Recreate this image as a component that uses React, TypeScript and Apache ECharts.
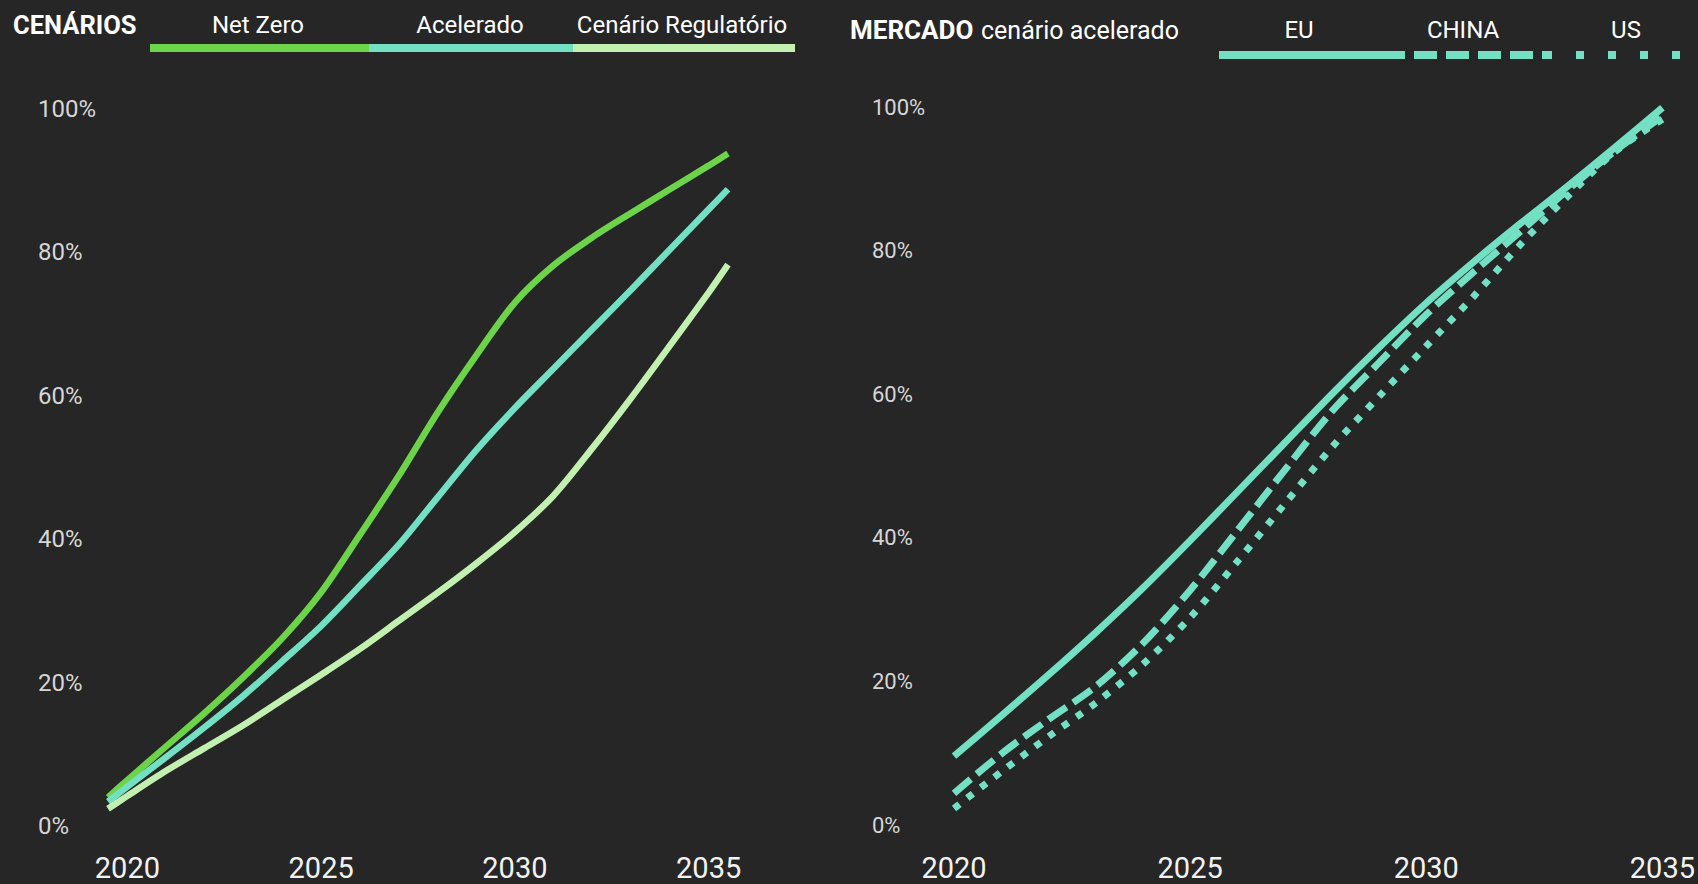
import React, { useEffect, useRef } from "react";
import * as echarts from "echarts";

// ---- Left chart: CENÁRIOS ----
const scenarioYears = [2019.5, 2020, 2021, 2022, 2023, 2024, 2025, 2026, 2027, 2028, 2029, 2030, 2031, 2032, 2033, 2034, 2035, 2035.5];
const netZero = [4.0, 6.4, 11.1, 15.8, 20.8, 26.2, 32.6, 40.6, 48.8, 57.6, 65.6, 73.0, 78.2, 82.1, 85.5, 88.8, 92.1, 93.8];
const acelerado = [3.4, 5.5, 9.6, 13.8, 18.2, 23.0, 27.9, 33.5, 39.2, 45.8, 52.4, 58.3, 63.8, 69.3, 74.8, 80.4, 86.0, 88.8];
const regulatorio = [2.4, 4.2, 7.7, 10.9, 14.1, 17.6, 21.1, 24.7, 28.6, 32.5, 36.6, 41.0, 46.1, 52.7, 59.7, 67.0, 74.4, 78.3];

// ---- Right chart: MERCADO cenário acelerado ----
const marketYears = [2020, 2021, 2022, 2023, 2024, 2025, 2026, 2027, 2028, 2029, 2030, 2031, 2032, 2033, 2034, 2035];
const eu = [9.6, 15.2, 20.9, 26.8, 33.0, 39.6, 46.4, 53.2, 60.0, 66.5, 72.7, 78.4, 83.8, 89.0, 94.4, 99.9];
const china = [4.4, 9.9, 14.7, 19.3, 25.3, 32.7, 41.0, 49.4, 57.6, 64.4, 71.1, 77.0, 82.7, 88.5, 93.9, 98.7];
const us = [2.3, 7.4, 12.3, 17.0, 22.4, 28.9, 36.7, 44.7, 52.6, 59.7, 66.7, 73.6, 80.9, 87.6, 93.8, 98.3];

const yearTicks = [2020, 2025, 2030, 2035];

const scenarioNames = ["Net Zero", "Acelerado", "Cenário Regulatório"];
const marketNames = ["EU", "CHINA", "US"];

const GREEN = "#6dd44a";
const TEAL = "#73e0c4";
const PALE = "#c2f0b0";
const BG = "#262626";
const FONT = "Roboto, 'Noto Sans', sans-serif";

const zip = (xs: number[], ys: number[]) => xs.map((x, i) => [x, ys[i]]);

export default function App() {
  const ref = useRef<HTMLDivElement>(null);

  useEffect(() => {
    if (!ref.current) return;
    const chart = echarts.init(ref.current, undefined, { renderer: "svg" });

    const yAxisBase = (gridIndex: number, margin: number, fontSize: number) => ({
      type: "value",
      gridIndex,
      min: 0,
      max: 100,
      interval: 20,
      axisLine: { show: false },
      axisTick: { show: false },
      splitLine: { show: false },
      axisLabel: {
        formatter: "{value}%",
        color: "#d6d6d6",
        fontFamily: FONT,
        fontSize,
        align: "left",
        margin,
      },
    });

    const xLabel = (margin: number) => ({
      color: "#f2f2f2",
      fontFamily: FONT,
      fontSize: 29,
      margin,
      customValues: yearTicks,
      formatter: (v: number) => String(v),
    });

    const headerText = (text: string, x: number, y: number, weight = "normal", align = "center", size = 24) => ({
      type: "text",
      x,
      y,
      style: {
        text,
        fill: "#ffffff",
        font: `${weight} ${size}px ${FONT}`,
        textAlign: align,
        align,
        textVerticalAlign: "middle",
        verticalAlign: "middle",
      },
    });

    const lineSeries = (
      name: string,
      axis: number,
      xs: number[],
      ys: number[],
      color: string,
      width: number,
      type: any = "solid"
    ) => ({
      name,
      type: "line",
      xAxisIndex: axis,
      yAxisIndex: axis,
      data: zip(xs, ys),
      smooth: 0.3,
      showSymbol: false,
      lineStyle: { color, width, cap: "butt", type },
    });

    const option: any = {
      animation: false,
      backgroundColor: BG,
      grid: [
        { left: 108, top: 109, width: 620, height: 717 },
        { left: 954, top: 107, width: 718, height: 718 },
      ],
      xAxis: [
        {
          type: "value",
          gridIndex: 0,
          min: 2019.5,
          max: 2035.5,
          axisLine: { show: false },
          axisTick: { show: false },
          splitLine: { show: false },
          axisLabel: xLabel(27),
        },
        {
          type: "value",
          gridIndex: 1,
          min: 2020,
          max: 2035,
          axisLine: { show: false },
          axisTick: { show: false },
          splitLine: { show: false },
          axisLabel: xLabel(28),
        },
      ],
      yAxis: [yAxisBase(0, 70, 24), yAxisBase(1, 82, 22)],
      series: [
        lineSeries(scenarioNames[0], 0, scenarioYears, netZero, GREEN, 6.5),
        lineSeries(scenarioNames[1], 0, scenarioYears, acelerado, TEAL, 6.5),
        lineSeries(scenarioNames[2], 0, scenarioYears, regulatorio, PALE, 6.5),
        lineSeries(marketNames[0], 1, marketYears, eu, TEAL, 7),
        lineSeries(marketNames[1], 1, marketYears, china, TEAL, 7, [22, 8]),
        lineSeries(marketNames[2], 1, marketYears, us, TEAL, 7, [7, 10]),
      ],
      graphic: [
        // left header
        headerText("CENÁRIOS", 13, 25, "bold", "left", 25.5),
        headerText(scenarioNames[0], 258, 25),
        headerText(scenarioNames[1], 470, 25),
        headerText(scenarioNames[2], 682, 25),
        { type: "rect", shape: { x: 150, y: 44, width: 219, height: 8 }, style: { fill: GREEN } },
        { type: "rect", shape: { x: 369, y: 44, width: 204, height: 8 }, style: { fill: TEAL } },
        { type: "rect", shape: { x: 573, y: 44, width: 222, height: 8 }, style: { fill: PALE } },
        // right header
        headerText("MERCADO", 850, 30, "bold", "left", 26),
        headerText("cenário acelerado", 981, 30, "normal", "left", 25),
        headerText(marketNames[0], 1299, 30),
        headerText(marketNames[1], 1463, 30),
        headerText(marketNames[2], 1626, 30),
        { type: "rect", shape: { x: 1219, y: 51, width: 163, height: 8 }, style: { fill: TEAL } },
        {
          type: "line",
          shape: { x1: 1382, y1: 55, x2: 1552, y2: 55 },
          style: { stroke: TEAL, lineWidth: 8, lineDash: [23, 9] },
        },
        {
          type: "line",
          shape: { x1: 1576, y1: 55, x2: 1698, y2: 55 },
          style: { stroke: TEAL, lineWidth: 8, lineDash: [8, 24] },
        },
      ],
    };

    chart.setOption(option);
    return () => chart.dispose();
  }, []);

  return (
    <div
      ref={ref}
      style={{ position: "absolute", left: 0, top: 0, width: 1698, height: 884, background: BG }}
    />
  );
}
